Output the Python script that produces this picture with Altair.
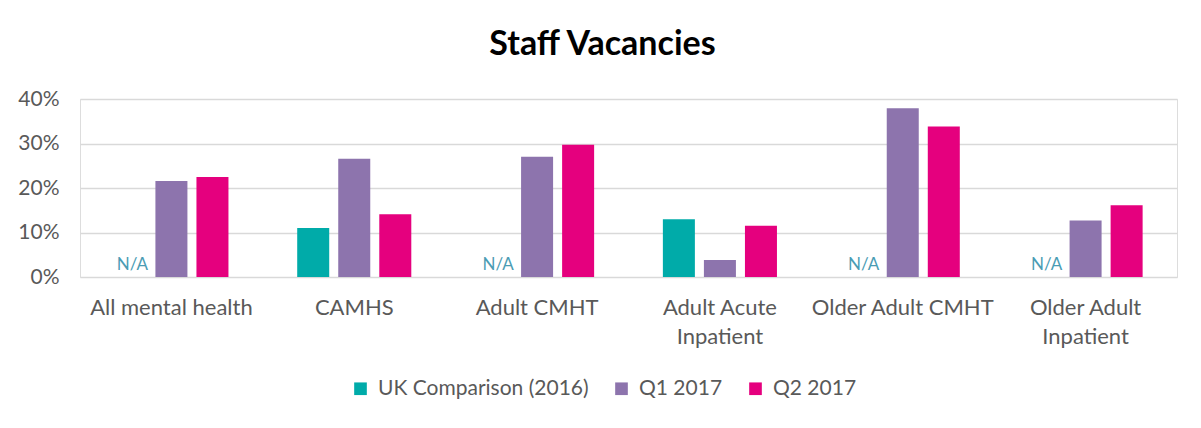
import altair as alt
import pandas as pd

categories = ["All mental health", "CAMHS", "Adult CMHT", "Adult Acute Inpatient",
              "Older Adult CMHT", "Older Adult Inpatient"]
series = ["UK Comparison (2016)", "Q1 2017", "Q2 2017"]
uk_2016 = [None, 0.110, None, 0.130, None, None]
q1_2017 = [0.216, 0.266, 0.270, 0.038, 0.379, 0.127]
q2_2017 = [0.225, 0.141, 0.297, 0.115, 0.338, 0.161]
colors = ["#00ABA9", "#8D74AD", "#E5007E"]
na_label = "N/A"

rows = []
for i, c in enumerate(categories):
    for s, vals in zip(series, [uk_2016, q1_2017, q2_2017]):
        v = vals[i]
        rows.append({"category": c, "series": s, "value": v,
                     "missing": v is None})
df = pd.DataFrame(rows)
na_df = df[df["missing"]].copy()
na_df["value"] = 0.0
na_df["label"] = na_label
bars_df = df[~df["missing"]]

FONT = "Lato"
GREY = "#595959"

x_enc = alt.X("category:N", sort=categories, title=None,
              scale=alt.Scale(paddingInner=0.376, paddingOuter=0.188),
              axis=alt.Axis(labelAngle=0, ticks=False, domain=False, grid=False,
                            labelFontSize=22, labelColor=GREY, labelFont=FONT,
                            labelPadding=20, labelLineHeight=29, labelLimit=0,
                            labelExpr="indexof(datum.value, ' Inpatient') > 0 ? [replace(datum.value, ' Inpatient', ''), 'Inpatient'] : datum.value"))
xo_enc = alt.XOffset("series:N", sort=series,
                     scale=alt.Scale(paddingInner=0.22, paddingOuter=0))
y_enc = alt.Y("value:Q", title=None,
              scale=alt.Scale(domain=[0, 0.4], nice=False),
              axis=alt.Axis(format=".0%", values=[0, 0.1, 0.2, 0.3, 0.4],
                            ticks=False, domain=False, gridColor="#D9D9D9",
                            gridWidth=1.5, labelFontSize=21, labelColor=GREY,
                            labelFont=FONT, labelPadding=21))

bars = alt.Chart(bars_df).mark_bar().encode(
    x=x_enc, xOffset=xo_enc, y=y_enc,
    color=alt.Color("series:N", sort=series,
                    scale=alt.Scale(domain=series, range=colors),
                    legend=alt.Legend(title=None, orient="none", direction="horizontal",
                                      legendX=270, legendY=279, symbolType="square",
                                      symbolSize=160, symbolStrokeWidth=0,
                                      labelFontSize=21, labelColor=GREY, labelFont=FONT,
                                      labelLimit=0, columnPadding=22, labelOffset=7,
                                      padding=0)),
)

na_text = alt.Chart(na_df).mark_text(
    color="#4A9CB4", fontSize=17, font=FONT, baseline="bottom", dy=-3, dx=2, align="center"
).encode(
    x=alt.X("category:N", sort=categories),
    xOffset=alt.XOffset("series:N", sort=series),
    y=alt.Y("value:Q"),
    text="label:N",
)

chart = alt.layer(bars, na_text).properties(
    width=1097, height=178,
    title=alt.TitleParams("Staff Vacancies", fontSize=34, font=FONT, fontWeight="bold",
                          color="#000000", anchor="middle", offset=26, dx=-26),
    padding={"left": 72, "top": 91, "right": 16, "bottom": 143},
    autosize=alt.AutoSizeParams(type="none"),
).configure_view(stroke=None).configure(background="white")

chart.save("out.html", embed_options={"renderer": "svg", "actions": False})
